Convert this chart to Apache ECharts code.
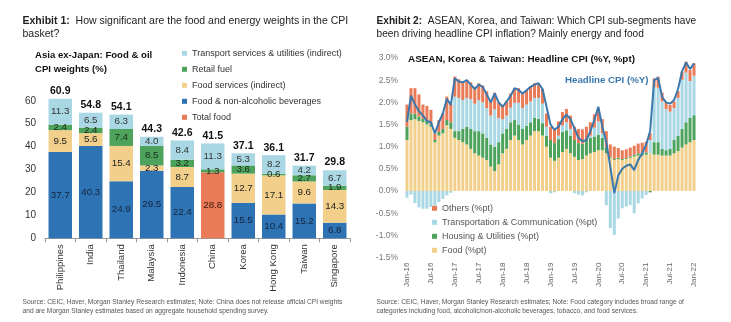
<!DOCTYPE html>
<html><head><meta charset="utf-8">
<script src="https://cdn.jsdelivr.net/npm/echarts@6/dist/echarts.min.js"></script>
<style>html,body{margin:0;padding:0;background:#fff}#c{width:731px;height:322px}</style>
</head><body><div id="c"></div>
<script>
// ---------- Exhibit 1 data ----------
const countries = ['Philippines','India','Thailand','Malaysia','Indonesia','China','Korea','Hong Kong','Taiwan','Singapore'];
const foodNonAlc   = [37.7, 40.3, 24.9, 29.5, 22.4, null, 15.5, 10.4, 15.2, 6.8];
const totalFood    = [null, null, null, null, null, 28.8, null, null, null, null];
const foodServices = [9.5, 5.6, 15.4, 2.3, 8.7, null, 12.7, 17.1, 9.6, 14.3];
const retailFuel   = [2.4, 2.4, 7.4, 8.5, 3.2, 1.3, 3.6, 0.6, 2.7, 1.9];
const transportSvc = [11.3, 6.5, 6.3, 4.0, 8.4, 11.3, 5.3, 8.2, 4.2, 6.7];
const totals       = [60.9, 54.8, 54.1, 44.3, 42.6, 41.5, 37.1, 36.1, 31.7, 29.8];
const leftTicks    = [0, 10, 20, 30, 40, 50, 60];

// ---------- Exhibit 2 data ----------
const months = ['Jan-16','Feb-16','Mar-16','Apr-16','May-16','Jun-16','Jul-16','Aug-16','Sep-16','Oct-16','Nov-16','Dec-16',
'Jan-17','Feb-17','Mar-17','Apr-17','May-17','Jun-17','Jul-17','Aug-17','Sep-17','Oct-17','Nov-17','Dec-17',
'Jan-18','Feb-18','Mar-18','Apr-18','May-18','Jun-18','Jul-18','Aug-18','Sep-18','Oct-18','Nov-18','Dec-18',
'Jan-19','Feb-19','Mar-19','Apr-19','May-19','Jun-19','Jul-19','Aug-19','Sep-19','Oct-19','Nov-19','Dec-19',
'Jan-20','Feb-20','Mar-20','Apr-20','May-20','Jun-20','Jul-20','Aug-20','Sep-20','Oct-20','Nov-20','Dec-20',
'Jan-21','Feb-21','Mar-21','Apr-21','May-21','Jun-21','Jul-21','Aug-21','Sep-21','Oct-21','Nov-21','Dec-21','Jan-22'];
const food = [1.15,1.6,1.62,1.58,1.55,1.5,1.45,1.1,1.25,1.3,1.48,1.4,
1.2,1.15,1.1,1.05,0.95,0.85,0.8,0.75,0.7,0.55,0.45,0.6,
0.85,0.95,1.15,1.25,1.15,1.05,1.15,1.25,1.35,1.35,1.25,1.0,
0.75,0.68,0.75,0.88,0.95,0.85,0.77,0.7,0.72,0.8,0.85,0.88,
0.92,0.92,0.85,0.75,0.7,0.72,0.7,0.72,0.75,0.78,0.8,0.8,
0.82,0.85,0.82,0.82,0.8,0.8,0.8,0.85,0.9,0.98,1.05,1.1,1.15];
const housing = [0.3,0.15,0.12,0.1,0.08,0.08,0.06,0.05,0.08,0.1,0.12,0.15,
0.15,0.2,0.3,0.4,0.45,0.5,0.55,0.55,0.5,0.5,0.55,0.5,
0.45,0.45,0.4,0.35,0.35,0.35,0.32,0.3,0.3,0.28,0.28,0.25,
0.4,0.4,0.42,0.45,0.42,0.4,0.38,0.38,0.35,0.35,0.35,0.35,
0.35,0.28,0.15,0.02,0.02,0.03,0.02,0.02,0.03,0.04,0.05,0.05,
0.05,-0.03,0.28,0.28,0.15,0.12,0.15,0.3,0.35,0.42,0.5,0.55,0.56];
const transport = [-0.15,-0.08,-0.27,-0.37,-0.4,-0.4,-0.36,-0.33,-0.25,-0.18,-0.1,-0.04,
0.78,0.75,0.65,0.65,0.67,0.62,0.7,0.7,0.67,0.65,0.84,0.55,
0.32,0.3,0.33,0.39,0.49,0.47,0.48,0.47,0.45,0.47,0.44,0.2,
-0.05,-0.03,0.08,0.15,0.18,0.15,-0.05,-0.08,-0.1,-0.03,0.05,0.2,
0.3,0.1,-0.32,-0.84,-0.99,-0.62,-0.39,-0.35,-0.32,-0.5,-0.28,-0.17,
-0.09,0.3,1.24,1.23,1.07,0.93,0.84,0.72,0.85,1.11,1.12,0.83,0.89];
const others = [0.5,0.57,0.58,0.5,0.32,0.34,0.32,0.15,0.27,0.35,0.53,0.41,
0.45,0.42,0.42,0.4,0.38,0.38,0.38,0.38,0.38,0.35,0.38,0.35,
0.32,0.32,0.32,0.33,0.33,0.33,0.33,0.33,0.33,0.33,0.33,0.3,
0.3,0.3,0.32,0.3,0.3,0.3,0.3,0.32,0.32,0.3,0.3,0.3,
0.3,0.32,0.35,0.28,0.28,0.22,0.2,0.2,0.2,0.2,0.22,0.24,
0.24,0.15,0.2,0.25,0.2,0.15,0.15,0.15,0.15,0.18,0.25,0.25,0.28];
const headline = [1.56,2.15,1.95,1.8,1.7,1.58,1.55,1.3,1.55,1.75,2.08,1.94,
2.54,2.47,2.45,2.5,2.4,2.3,2.4,2.35,2.18,2.0,2.2,2.0,
1.9,2.02,2.15,2.32,2.28,2.2,2.27,2.35,2.4,2.43,2.3,1.9,
1.5,1.38,1.45,1.62,1.72,1.62,1.42,1.2,1.12,1.15,1.35,1.6,
1.9,1.45,1.1,0.55,-0.05,0.35,0.5,0.57,0.6,0.47,0.7,0.85,
1.05,1.35,2.5,2.55,2.12,2.0,1.97,2.05,2.3,2.7,2.9,2.75,2.88];

const FF = '"Liberation Sans", Arial, Helvetica, sans-serif';
const C = {blue:'#2E74B5', lblue:'#A9D8E4', green:'#4DA35C', yellow:'#F2D08B', orange:'#E97B58', line:'#3B78AD'};

const chart = echarts.init(document.getElementById('c'), null, {renderer:'canvas'});

function segLabel(color){ return {show:true, position:'inside', fontSize:9.8, color:color||'#222', fontFamily:FF,
  textBorderWidth:0, textShadowBlur:0,
  formatter: p => (p.value == null ? '' : p.value.toFixed(1))}; }

function hdr(fs){ return {fontSize:fs, fontWeight:'normal', color:'#222', lineHeight:13.5, fontFamily:FF,
             rich:{b:{fontWeight:'bold', fontSize:fs, color:'#222', fontFamily:FF, lineHeight:13.5}}}; }

const option = {
  animation:false,
  textStyle:{fontFamily:FF},
  title:[
    {left:22.5, top:14, padding:0, text:'{b|Exhibit 1:}  How significant are the food and energy weights in the CPI\nbasket?', textStyle:hdr(10.5)},
    {left:376.5, top:14, padding:0, text:'{b|Exhibit 2:}  ASEAN, Korea, and Taiwan: Which CPI sub-segments have\nbeen driving headline CPI inflation? Mainly energy and food', textStyle:hdr(10.15)},
    {left:35, top:48, padding:0, text:'Asia ex-Japan: Food & oil\nCPI weights (%)',
     textStyle:{fontSize:9.6, fontWeight:'bold', color:'#111', lineHeight:14, fontFamily:FF}},
    {left:408, top:53, padding:0, text:'ASEAN, Korea & Taiwan: Headline CPI (%Y, %pt)',
     textStyle:{fontSize:9.9, fontWeight:'bold', color:'#111', lineHeight:12, fontFamily:FF}},
    {left:565, top:74, padding:0, text:'Headline CPI (%Y)',
     textStyle:{fontSize:9.7, fontWeight:'bold', color:C.line, lineHeight:12, fontFamily:FF}},
    {left:22.5, top:298, padding:0, text:'Source: CEIC, Haver, Morgan Stanley Research estimates; Note: China does not release official CPI weights\nand are Morgan Stanley estimates based on aggregate household spending survey.',
     textStyle:{fontSize:6.65, fontWeight:'normal', color:'#555', lineHeight:8.7, fontFamily:FF}},
    {left:376.5, top:298, padding:0, text:'Source: CEIC, Haver, Morgan Stanley Research estimates; Note: Food category includes broad range of\ncategories including food, alcoholic/non-alcoholic beverages, tobacco, and food services.',
     textStyle:{fontSize:6.65, fontWeight:'normal', color:'#555', lineHeight:8.7, fontFamily:FF}}
  ],
  legend:[
    {orient:'vertical', left:182, top:47.8, padding:0, itemWidth:5, itemHeight:5, itemGap:5, icon:'rect',
     textStyle:{fontSize:9, color:'#333', lineHeight:11, fontFamily:FF},
     data:['Transport services & utilities (indirect)','Retail fuel','Food services (indirect)','Food & non-alcoholic beverages','Total food']},
    {orient:'vertical', left:432, top:202.8, padding:0, itemWidth:5, itemHeight:5, itemGap:3, icon:'rect',
     textStyle:{fontSize:9, color:'#555', lineHeight:11, fontFamily:FF},
     data:['Others (%pt)','Transportation & Communication (%pt)','Housing & Utilities (%pt)','Food (%pt)']}
  ],
  grid:[
    {left:45, top:100.8, width:305, height:137.5},
    {left:405, top:58, width:291, height:199.5}
  ],
  xAxis:[
    {type:'category', gridIndex:0, data:countries,
     axisLine:{show:true, lineStyle:{color:'#999', width:1}},
     axisTick:{show:true, alignWithLabel:false, length:4, lineStyle:{color:'#999'}},
     axisLabel:{rotate:90, fontSize:9.5, color:'#333', margin:6, interval:0, fontFamily:FF},
     splitLine:{show:false}},
    {type:'category', gridIndex:1, data:months,
     axisLine:{show:false}, axisTick:{show:false},
     axisLabel:{rotate:90, fontSize:8, color:'#666', margin:5, interval:5, fontFamily:FF},
     splitLine:{show:false}}
  ],
  yAxis:[
    {type:'value', gridIndex:0, min:leftTicks[0], max:leftTicks[leftTicks.length-1], interval:10,
     axisLine:{show:false}, axisTick:{show:false}, splitLine:{show:false},
     axisLabel:{fontSize:10, color:'#333', margin:9, fontFamily:FF}},
    {type:'value', gridIndex:1, min:-1.5, max:3.0, interval:0.5,
     axisLine:{show:false}, axisTick:{show:false}, splitLine:{show:false},
     axisLabel:{fontSize:8.5, color:'#777', margin:7, fontFamily:FF, formatter:v=>v.toFixed(1)+'%'}}
  ],
  series:[
    {name:'Food & non-alcoholic beverages', type:'bar', stack:'a', xAxisIndex:0, yAxisIndex:0, data:foodNonAlc, barWidth:'77%', clip:false,
     itemStyle:{color:C.blue}, label:segLabel('#15233a')},
    {name:'Total food', type:'bar', stack:'a', xAxisIndex:0, yAxisIndex:0, data:totalFood, barWidth:'77%', clip:false,
     itemStyle:{color:C.orange}, label:segLabel('#3a160c')},
    {name:'Food services (indirect)', type:'bar', stack:'a', xAxisIndex:0, yAxisIndex:0, data:foodServices, barWidth:'77%', clip:false,
     itemStyle:{color:C.yellow}, label:segLabel('#222')},
    {name:'Retail fuel', type:'bar', stack:'a', xAxisIndex:0, yAxisIndex:0, data:retailFuel, barWidth:'77%', clip:false,
     itemStyle:{color:C.green}, label:segLabel('#1a2a1a')},
    {name:'Transport services & utilities (indirect)', type:'bar', stack:'a', xAxisIndex:0, yAxisIndex:0, data:transportSvc, barWidth:'77%', clip:false,
     itemStyle:{color:C.lblue}, label:segLabel('#333')},
    {name:'Total', type:'bar', xAxisIndex:0, yAxisIndex:0, data:totals, barWidth:'77%', barGap:'-100%', clip:false, silent:true, z:1,
     itemStyle:{color:'rgba(0,0,0,0)'},
     label:{show:true, position:'top', distance:2, fontSize:10.5, fontWeight:'bold', color:'#111', fontFamily:FF,
            formatter:p=>p.value.toFixed(1)}},

    {name:'Food (%pt)', type:'bar', stack:'b', xAxisIndex:1, yAxisIndex:1, data:food, barWidth:'76%', itemStyle:{color:C.yellow}},
    {name:'Housing & Utilities (%pt)', type:'bar', stack:'b', xAxisIndex:1, yAxisIndex:1, data:housing, barWidth:'76%', itemStyle:{color:C.green}},
    {name:'Transportation & Communication (%pt)', type:'bar', stack:'b', xAxisIndex:1, yAxisIndex:1, data:transport, barWidth:'76%', itemStyle:{color:C.lblue}},
    {name:'Others (%pt)', type:'bar', stack:'b', xAxisIndex:1, yAxisIndex:1, data:others, barWidth:'76%', itemStyle:{color:C.orange}},
    {name:'Headline CPI (%Y)', type:'line', xAxisIndex:1, yAxisIndex:1, data:headline, showSymbol:false, symbol:'none', z:5,
     lineStyle:{color:C.line, width:2}}
  ]
};
chart.setOption(option);
</script></body></html>
